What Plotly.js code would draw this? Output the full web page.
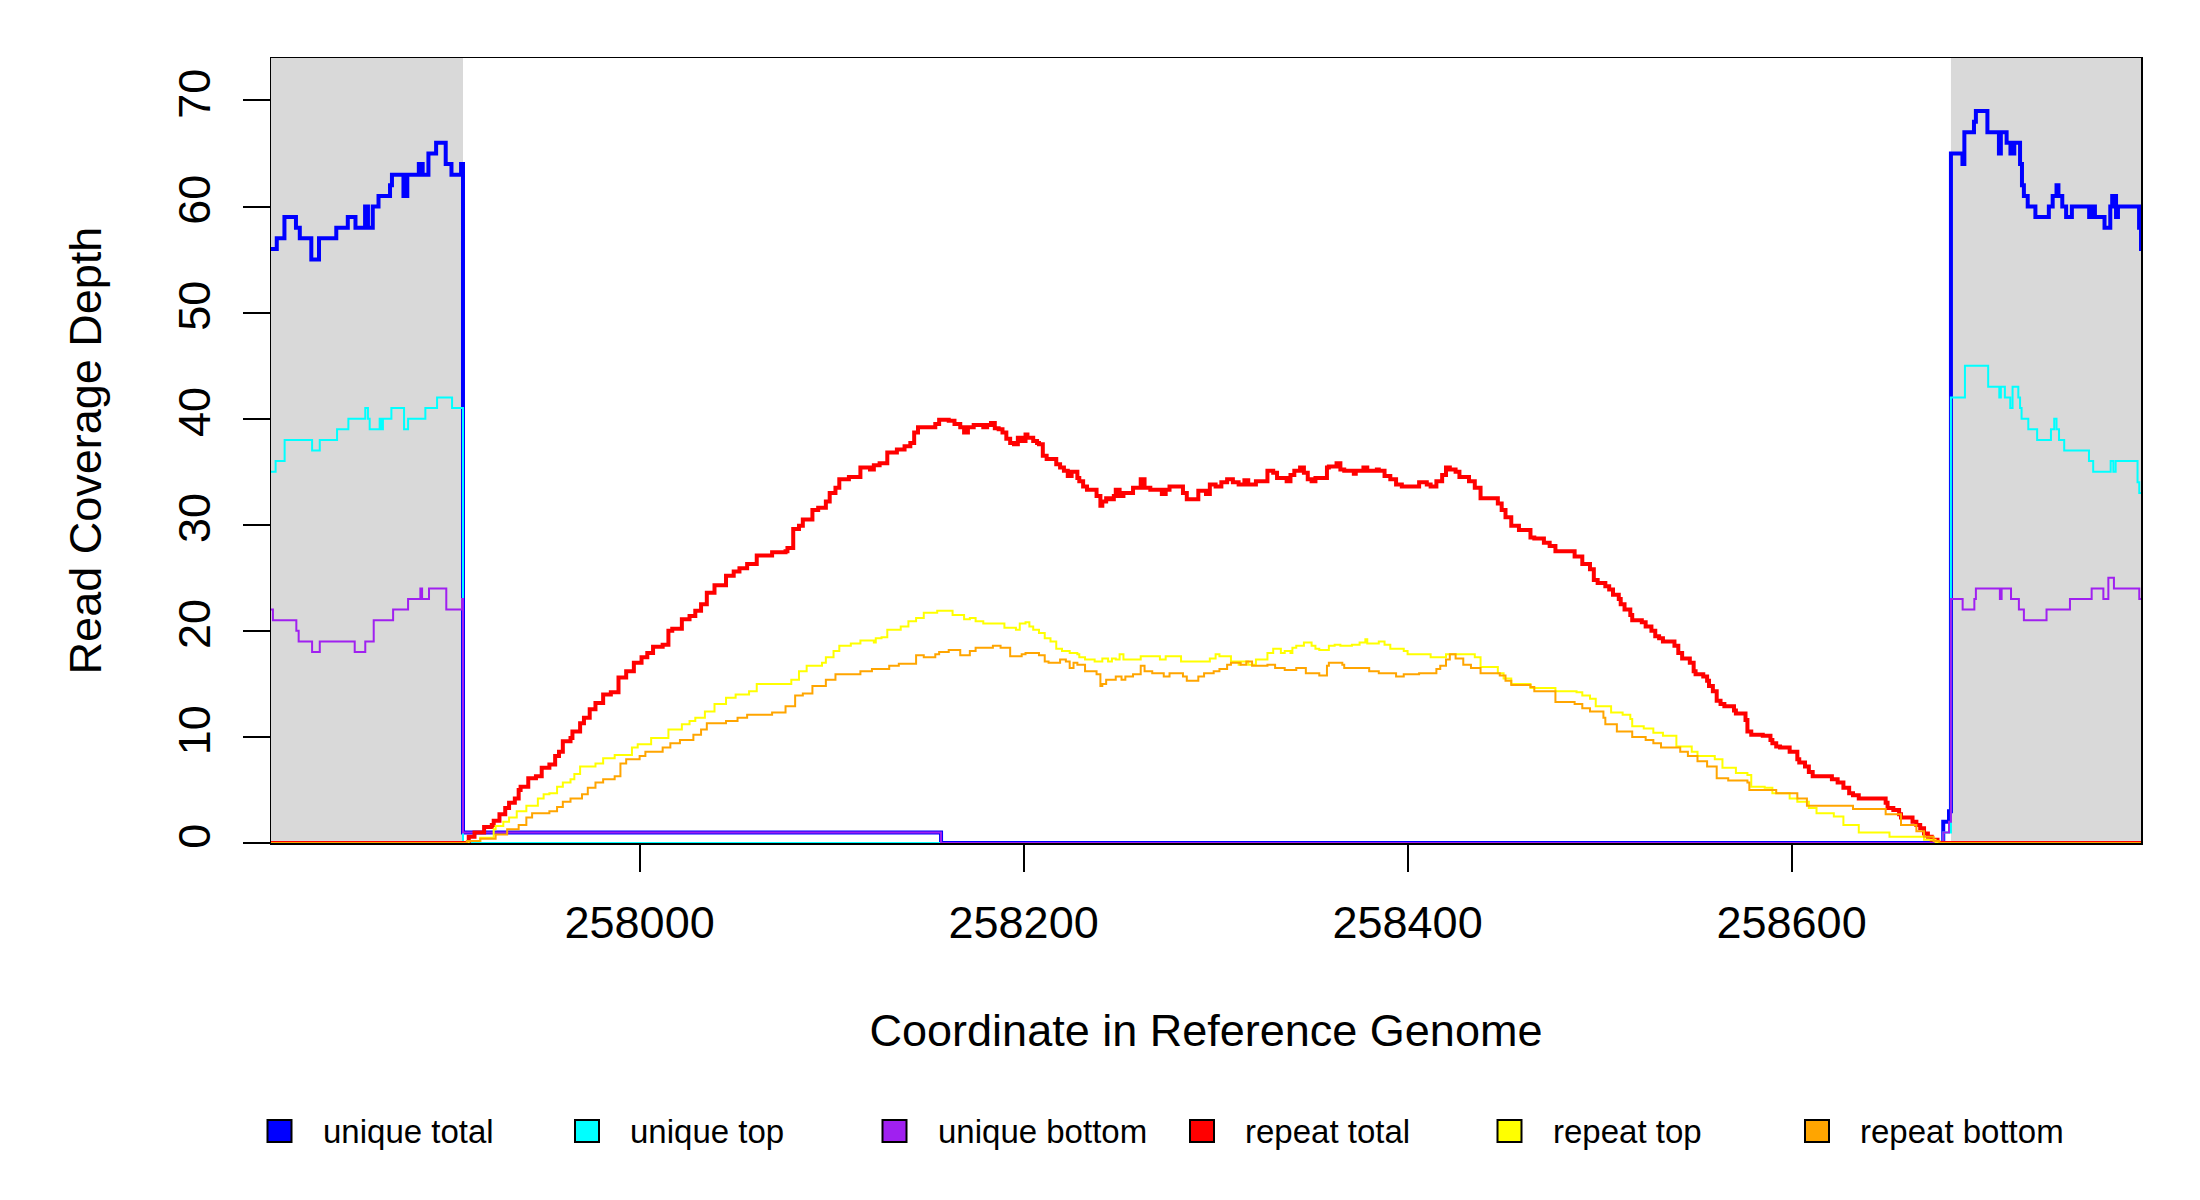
<!DOCTYPE html>
<html>
<head>
<meta charset="utf-8">
<script src="https://cdn.plot.ly/plotly-3.0.1.min.js"></script>
<style>
  html, body { margin: 0; padding: 0; background: #fff; }
  #chart { width: 2200px; height: 1200px; }
</style>
</head>
<body>
<div id="chart"></div>
<script>
// read coverage along the reference, [position, depth] per step change
var uniqueTotal = [
  [257808,56],[257811,57],[257815,59],[257821,58],[257823,57],[257829,55],[257833,57],[257842,58],
  [257848,59],[257852,58],[257857,60],[257858.5,58],[257861,60],[257864,61],[257870,62],[257871,63],
  [257877,61],[257879,63],[257885,64],[257887,63],[257890,65],[257894,66],[257899,64],[257902,63],
  [257907,64],[257908,1],[258157,0],[258679,2],[258682,3],[258683,65],[258689,64],[258690,67],
  [258695,68],[258696,69],[258702,67],[258708,65],[258709,67],[258712,66],[258714,65],[258716,66],
  [258719,64],[258720,62],[258721,61],[258723,60],[258727,59],[258734,60],[258736,61],[258738,62],
  [258739,61],[258741,60],[258743,59],[258746,60],[258755,59],[258756,60],[258758,59],[258763,58],
  [258766,60],[258767,61],[258769,59],[258770,60],[258781,58],[258782,56],[258783,56]
];

var uniqueTop = [
  [257808,35],[257810.4,36],[257815.1,38],[257829.4,37],[257833.4,38],[257842.4,39],[257848.3,40],
  [257857.1,41],[257858.5,40],[257859.4,39],[257864.6,40],[257865.5,39],[257866.3,40],[257870.7,41],
  [257877.3,39],[257879.4,40],[257888.4,41],[257894.5,42],[257902.3,41],[257908,0],[258679,1],
  [258683,42],[258690.3,45],[258702.4,43],[258708.2,42],[258709,43],[258711.1,42],[258713.9,41],
  [258715.1,43],[258718.1,42],[258719,41],[258719.8,40],[258723.3,39],[258727.9,38],[258735.1,39],
  [258736.8,40],[258738,39],[258739.3,38],[258742,37],[258754.9,36],[258757.1,35],[258766.2,36],
  [258767.6,35],[258768.8,36],[258780.2,34],[258781.1,33],[258783,33]
];

var uniqueBottom = [
  [257808,22],[257809,21],[257821.2,20],[257822.4,19],[257829.4,18],[257833.4,19],[257851.6,18],
  [257857.1,19],[257861.5,21],[257871.6,22],[257879.4,23],[257885.8,24],[257886.7,23],[257890.3,24],
  [257899.3,22],[257907.5,23],[257908,1],[258157,0],[258679,1],[258682,2],[258683,23],[258689.1,22],
  [258695.2,23],[258696,24],[258708.5,23],[258709.4,24],[258714.3,23],[258718.4,22],[258721,21],
  [258732.8,22],[258745,23],[258756.3,24],[258762.4,23],[258765,25],[258767.9,24],[258781.1,23],
  [258783,23]
];

var repeatTotal = [
  [257808,0],[257911,0.6],[257914,1.0],[257919,1.5],[257923,1.7],[257924,2.1],[257927,2.7],[257930,3.3],
  [257932,3.8],[257935,4.2],[257937,5.0],[257938,5.3],[257942,6.1],[257946,6.3],[257949,7.1],[257953,7.4],
  [257956,8.2],[257958,8.6],[257960,9.6],[257964,9.9],[257965,10.5],[257969,11.3],[257971,11.8],[257974,12.6],
  [257977,13.2],[257981,14.0],[257985,14.2],[257989,15.6],[257993,16.2],[257997,17.0],[258001,17.5],[258004,17.9],
  [258007,18.5],[258012,18.7],[258015,20.0],[258017,20.2],[258022,21.1],[258026,21.4],[258029,21.9],[258032,22.5],
  [258035,23.6],[258039,24.3],[258045,25.2],[258049,25.6],[258052,25.9],[258056,26.3],[258061,27.1],[258069,27.4],
  [258076,27.5],[258077,27.8],[258080,29.6],[258083,29.9],[258085,30.5],[258090,31.4],[258093,31.6],[258097,32.2],
  [258099,33.0],[258102,33.5],[258104,34.3],[258109,34.5],[258115,35.4],[258120,35.2],[258122,35.6],[258125,35.8],
  [258129,36.8],[258134,37.1],[258138,37.4],[258141,37.7],[258143,38.7],[258145,39.2],[258154,39.5],[258156,39.9],
  [258161,39.8],[258164,39.5],[258167,39.2],[258169,38.7],[258171,39.2],[258174,39.4],[258179,39.2],[258181,39.4],
  [258183,39.6],[258185,39.1],[258187,39.0],[258189,38.7],[258191,38.1],[258193,37.7],[258195,37.6],[258197,38.2],
  [258199,37.9],[258201,38.5],[258202,38.2],[258205,37.9],[258207,37.7],[258208,37.6],[258210,36.5],[258212,36.2],
  [258217,35.7],[258219,35.4],[258221,35.1],[258223,34.6],[258225,35.0],[258228,34.4],[258229,34.1],[258231,33.6],
  [258233,33.3],[258238,32.7],[258240,31.8],[258241,32.2],[258243,32.5],[258245,32.4],[258247,32.7],[258248,33.3],
  [258250,32.7],[258252,33.0],[258257,33.5],[258261,34.3],[258263,33.5],[258266,33.3],[258272,32.9],[258274,33.3],
  [258276,33.6],[258283,33.0],[258285,32.4],[258291,33.2],[258295,32.9],[258297,33.8],[258300,33.6],[258303,34.0],
  [258306,34.3],[258309,34.0],[258312,33.8],[258315,34.2],[258317,33.8],[258321,34.1],[258327,35.1],[258330,34.9],
  [258332,34.4],[258337,34.1],[258339,34.7],[258341,35.1],[258344,35.4],[258346,34.9],[258348,34.3],[258350,34.1],
  [258352,34.4],[258358,35.4],[258359,35.5],[258363,35.8],[258365,35.2],[258367,35.1],[258372,34.8],[258373,35.1],
  [258377,35.4],[258379,35.1],[258384,35.2],[258385,35.1],[258388,34.6],[258391,34.3],[258394,33.8],[258397,33.6],
  [258406,34.0],[258410,33.8],[258412,33.6],[258415,34.1],[258418,34.7],[258420,35.4],[258422,35.2],[258425,35.0],
  [258427,34.5],[258432,34.1],[258435,33.5],[258438,32.5],[258447,32.0],[258449,31.4],[258451,30.7],[258454,29.9],
  [258458,29.5],[258464,28.8],[258466,28.7],[258471,28.3],[258474,28.0],[258477,27.5],[258487,27.0],[258491,26.3],
  [258495,25.8],[258497,24.8],[258499,24.5],[258503,24.2],[258505,23.9],[258507,23.4],[258510,23.0],[258511,22.5],
  [258513,22.0],[258516,21.5],[258517,21.0],[258522,20.8],[258524,20.4],[258527,20.0],[258529,19.5],[258531,19.3],
  [258533,19.0],[258539,18.6],[258541,17.9],[258543,17.4],[258547,17.0],[258549,16.2],[258550,15.9],[258554,15.7],
  [258556,15.3],[258557,14.8],[258559,14.3],[258561,13.4],[258563,13.1],[258565,12.9],[258570,12.5],[258571,12.2],
  [258576,11.6],[258577,10.5],[258579,10.2],[258585,10.1],[258589,9.7],[258590,9.4],[258592,9.1],[258594,9.0],
  [258599,8.6],[258603,7.9],[258604,7.6],[258607,7.2],[258609,6.7],[258611,6.3],[258621,6.0],[258624,5.7],
  [258627,5.2],[258630,4.7],[258632,4.5],[258635,4.2],[258649,3.8],[258650,3.3],[258653,3.1],[258656,2.7],
  [258657,2.4],[258663,2.0],[258665,1.7],[258667,1.4],[258669,0.9],[258671,0.6],[258673,0.3],[258676,0],
  [258783,0]
];

var repeatTop = [
  [257808,0],[257911,0.2],[257917,0.5],[257924,1.3],[257925,1.6],[257929,2.0],[257932,2.4],[257936,3.0],
  [257941,3.5],[257947,4.2],[257950,4.6],[257953,4.7],[257957,5.3],[257960,5.7],[257964,6.0],[257966,6.5],
  [257969,7.2],[257977,7.5],[257981,8.0],[257987,8.3],[257996,9.0],[257999,9.3],[258006,9.9],[258015,10.7],
  [258022,11.2],[258026,11.5],[258029,11.8],[258034,12.4],[258039,13.1],[258045,13.7],[258050,14.0],[258057,14.3],
  [258061,15.0],[258079,15.4],[258083,16.2],[258087,16.7],[258095,17.0],[258097,17.5],[258101,18.1],[258104,18.6],
  [258110,18.8],[258115,19.1],[258122,18.9],[258123,19.3],[258126,19.4],[258129,20.1],[258136,20.4],[258140,20.9],
  [258144,21.2],[258148,21.7],[258155,21.9],[258163,21.5],[258169,21.1],[258172,21.2],[258175,20.9],[258179,20.7],
  [258190,20.3],[258196,20.1],[258198,20.7],[258201,20.8],[258203,20.4],[258205,20.1],[258208,19.8],[258211,19.3],
  [258214,19.0],[258217,18.3],[258220,18.1],[258224,17.9],[258228,17.8],[258229,17.5],[258232,17.3],[258237,17.1],
  [258241,17.4],[258244,17.1],[258246,17.4],[258248,17.3],[258250,17.8],[258252,17.3],[258261,17.6],[258271,17.3],
  [258274,17.6],[258282,17.1],[258297,17.4],[258300,17.8],[258302,17.6],[258308,17.1],[258312,16.8],[258313,17.1],
  [258317,16.8],[258321,17.3],[258327,17.9],[258330,18.3],[258334,17.9],[258336,18.1],[258339,17.9],[258340,18.4],
  [258342,18.6],[258346,18.9],[258350,18.6],[258352,18.3],[258354,18.2],[258359,18.6],[258362,18.7],[258365,18.6],
  [258371,18.7],[258375,18.9],[258378,19.2],[258379,18.8],[258385,19.0],[258388,18.7],[258391,18.3],[258398,18.1],
  [258400,17.8],[258412,17.5],[258420,17.8],[258435,17.5],[258438,16.6],[258447,16.0],[258450,15.5],[258454,15.0],
  [258464,14.6],[258477,14.3],[258488,14.2],[258491,13.9],[258495,13.6],[258498,12.9],[258506,12.3],[258512,12.1],
  [258516,11.7],[258517,11.0],[258523,10.8],[258528,10.4],[258533,10.1],[258540,9.1],[258548,8.6],[258551,8.2],
  [258560,7.9],[258564,7.1],[258571,6.6],[258577,6.4],[258579,5.3],[258586,5.2],[258590,4.7],[258599,4.2],
  [258603,3.9],[258609,3.3],[258613,2.8],[258622,2.5],[258627,1.7],[258635,1.0],[258651,0.6],[258669,0.3],
  [258675,0],[258783,0]
];

var repeatBottom = [
  [257808,0],[257910,0.2],[257917,0.4],[257925,0.8],[257931,1.3],[257937,1.7],[257941,2.4],[257944,2.8],
  [257953,3.0],[257957,3.4],[257960,3.9],[257964,4.2],[257970,4.6],[257973,5.2],[257977,5.7],[257981,6.0],
  [257987,6.3],[257990,7.5],[257993,7.9],[258000,8.2],[258003,8.6],[258012,9.0],[258016,9.4],[258021,9.7],
  [258028,10.2],[258032,10.7],[258035,11.3],[258045,11.5],[258051,11.8],[258056,12.1],[258069,12.3],[258076,12.9],
  [258081,13.9],[258085,14.1],[258090,14.8],[258097,15.4],[258102,15.9],[258115,16.2],[258121,16.4],[258130,16.7],
  [258135,16.9],[258144,17.7],[258148,17.5],[258154,17.8],[258156,18.0],[258161,18.2],[258167,17.7],[258172,18.1],
  [258175,18.4],[258184,18.6],[258188,18.4],[258193,17.6],[258199,17.8],[258201,17.9],[258208,17.7],[258211,17.1],
  [258213,17.0],[258219,17.3],[258222,17.1],[258224,16.5],[258226,17.0],[258228,16.8],[258232,16.2],[258238,15.9],
  [258240,14.8],[258241,15.0],[258243,15.4],[258248,15.7],[258251,15.4],[258253,15.7],[258257,15.9],[258261,16.7],
  [258263,16.2],[258267,16.0],[258273,15.7],[258276,16.0],[258283,15.7],[258285,15.3],[258291,15.7],[258294,16.0],
  [258299,16.2],[258302,16.4],[258306,16.8],[258308,17.0],[258313,16.8],[258316,17.1],[258319,16.7],[258327,16.8],
  [258331,16.5],[258336,16.3],[258342,16.5],[258347,16.0],[258354,15.8],[258358,16.7],[258359,17.0],[258366,16.8],
  [258367,16.5],[258380,16.2],[258385,16.0],[258394,15.7],[258398,15.9],[258406,16.0],[258415,16.4],[258417,16.7],
  [258420,17.3],[258422,17.8],[258425,17.4],[258429,16.8],[258433,16.5],[258438,16.0],[258448,15.8],[258451,15.3],
  [258454,14.9],[258464,14.7],[258466,14.3],[258477,13.3],[258487,13.1],[258491,12.7],[258495,12.4],[258502,11.8],
  [258503,11.2],[258509,10.5],[258517,10.0],[258524,9.7],[258528,9.4],[258532,9.0],[258542,8.6],[258546,8.2],
  [258551,7.7],[258556,7.2],[258561,6.1],[258567,5.9],[258577,5.7],[258578,5.0],[258592,4.7],[258603,4.2],
  [258608,3.5],[258632,3.2],[258649,2.7],[258657,1.7],[258665,1.1],[258669,0.6],[258674,0.2],[258677,0],
  [258783,0]
];

// unique flanks either side of the repeat (shaded grey)
var flanks = [[257808, 257908], [258683, 258783]];
var xRange = [257808, 258782];
var yRange = [0, 74];
var xTicks = [258000, 258200, 258400, 258600];
var yTicks = [0, 10, 20, 30, 40, 50, 60, 70];

var seriesNames = ['unique total', 'unique top', 'unique bottom', 'repeat total', 'repeat top', 'repeat bottom'];
var seriesData = [uniqueTotal, uniqueTop, uniqueBottom, repeatTotal, repeatTop, repeatBottom];
var seriesColors = ['#0000ff', '#00ffff', '#a020f0', '#ff0000', '#ffff00', '#ffa500'];
var seriesWidths = [4, 2, 2, 4, 2, 2];

var FONT = 'Liberation Sans, Arial, sans-serif';
var W = 2200, H = 1200;
var M = { l: 271, r: 59, t: 58, b: 357 };
var plotW = W - M.l - M.r, plotH = H - M.t - M.b;
function paperX(px) { return (px - M.l) / plotW; }
function paperY(py) { return (H - M.b - py) / plotH; }

var data = seriesData.map(function (pts, i) {
    return {
        x: pts.map(function (p) { return p[0]; }),
        y: pts.map(function (p) { return p[1]; }),
        type: 'scatter',
        mode: 'lines',
        name: seriesNames[i],
        line: { color: seriesColors[i], width: seriesWidths[i], shape: 'hv' },
        showlegend: false,
        hoverinfo: 'skip'
    };
});

var shapes = flanks.map(function (f) {
    return {
        type: 'rect', xref: 'x', yref: 'paper',
        x0: f[0], x1: f[1], y0: 0, y1: 1,
        fillcolor: '#d9d9d9', line: { width: 0 }, layer: 'below'
    };
});

// legend row under the axis title: filled boxes with labels
var legendLeft = 267.5, legendStep = 307.5, legendMid = 1131;
var annotations = [];
seriesNames.forEach(function (name, i) {
    var x0 = legendLeft + i * legendStep;
    shapes.push({
        type: 'rect', xref: 'paper', yref: 'paper',
        x0: paperX(x0), x1: paperX(x0 + 24),
        y0: paperY(legendMid + 11), y1: paperY(legendMid - 11),
        fillcolor: seriesColors[i], line: { color: '#000', width: 2 }
    });
    annotations.push({
        xref: 'paper', yref: 'paper',
        x: paperX(x0 + 53), y: paperY(legendMid),
        xanchor: 'left', yanchor: 'middle',
        text: name, showarrow: false,
        font: { size: 33, family: FONT, color: '#000' }
    });
});

var layout = {
    width: W,
    height: H,
    margin: M,
    paper_bgcolor: '#fff',
    plot_bgcolor: '#fff',
    font: { family: FONT, color: '#000' },
    showlegend: false,
    shapes: shapes,
    annotations: annotations,
    xaxis: {
        range: xRange,
        tickvals: xTicks,
        ticktext: xTicks.map(String),
        ticks: 'outside', ticklen: 27, tickwidth: 2, tickcolor: '#000',
        ticklabelstandoff: 12,
        tickfont: { size: 45, family: FONT },
        showgrid: false, zeroline: false,
        showline: true, mirror: true, linecolor: '#000', linewidth: 1.5,
        title: { text: 'Coordinate in Reference Genome', font: { size: 45, family: FONT }, standoff: 68 }
    },
    yaxis: {
        range: yRange,
        tickvals: yTicks,
        ticktext: yTicks.map(String),
        tickangle: -90,
        ticks: 'outside', ticklen: 27, tickwidth: 2, tickcolor: '#000',
        ticklabelstandoff: 15,
        tickfont: { size: 45, family: FONT },
        showgrid: false, zeroline: false,
        showline: true, mirror: true, linecolor: '#000', linewidth: 1.5,
        title: { text: 'Read Coverage Depth', font: { size: 45, family: FONT }, standoff: 53 }
    }
};

Plotly.newPlot('chart', data, layout, { staticPlot: true });
</script>
</body>
</html>
